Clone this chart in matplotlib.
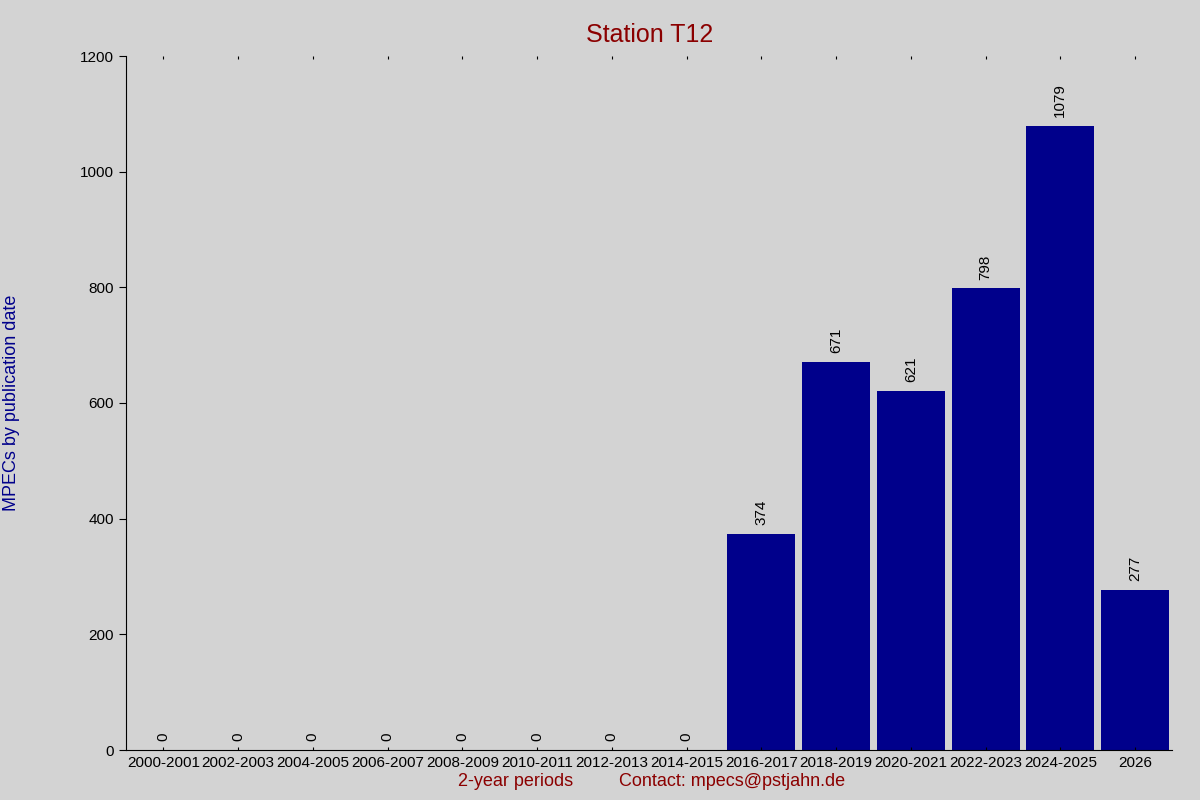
import matplotlib
matplotlib.use("Agg")
import matplotlib.pyplot as plt

categories = ["2000-2001","2002-2003","2004-2005","2006-2007","2008-2009","2010-2011",
              "2012-2013","2014-2015","2016-2017","2018-2019","2020-2021","2022-2023",
              "2024-2025","2026"]
values = [0,0,0,0,0,0,0,0,374,671,621,798,1079,277]

plt.rcParams['font.family'] = ['Liberation Sans', 'DejaVu Sans']
fig = plt.figure(figsize=(12, 8), dpi=100, facecolor='#d3d3d3')
ax = fig.add_axes([0.105, 0.0625, 0.872, 0.8675], facecolor='#d3d3d3')
x = list(range(len(categories)))
ax.bar(x, values, width=0.91, color='#00008b')
for xi, v in zip(x, values):
    ax.text(xi, v + 15, str(v), rotation=90, ha='center', va='bottom', fontsize=11, color='black')
ax.set_xlim(-0.5, len(categories) - 0.5)
ax.set_ylim(0, 1200)
ax.set_yticks(range(0, 1201, 200))
ax.set_xticks(x)
ax.set_xticklabels(categories, fontsize=11)
ax.tick_params(axis='y', labelsize=11, direction='out', length=5)
ax.tick_params(axis='x', direction='in', length=2, top=True, pad=4)
for s in ['top', 'right']:
    ax.spines[s].set_visible(False)
ax.set_title("Station T12", color='#8b0000', fontsize=18, pad=10)
fig.text(0.43, 0.0175, "2-year periods", color='#8b0000', fontsize=13, ha='center')
fig.text(0.61, 0.0175, "Contact: mpecs@pstjahn.de", color='#8b0000', fontsize=13, ha='center')
fig.text(0.01, 0.497, "MPECs by publication date", color='#00008b', fontsize=13,
         rotation=90, ha='center', va='center')
fig.savefig("out.png", dpi=100, facecolor=fig.get_facecolor())
